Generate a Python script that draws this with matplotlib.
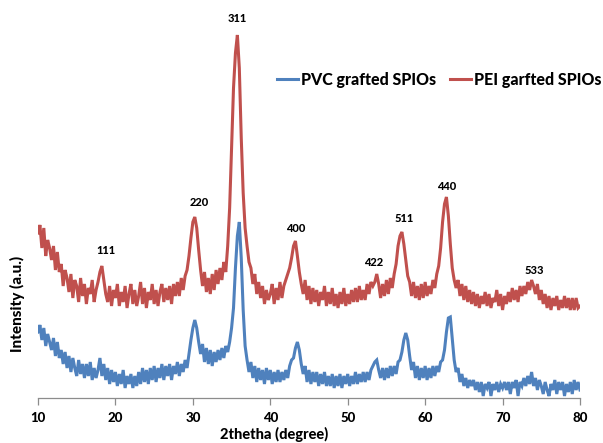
import numpy as np
import matplotlib
matplotlib.use("Agg")
import matplotlib.pyplot as plt

# 2theta grid (degree), 0.25 step from 10 to 80
two_theta_start = 10.0
two_theta_end = 80.0
two_theta_step = 0.25

# PEI grafted SPIOs intensity (a.u.)
pei = [
    165, 173, 150, 170, 142, 158, 150, 138, 152, 128, 146, 126,   # 10.00-12.75
    134, 112, 128, 120, 106, 124, 100, 118, 112, 96, 120, 102,    # 13.00-15.75
    114, 94, 110, 104, 118, 96, 108, 116, 126, 132, 118, 104,     # 16.00-18.75
    96, 112, 92, 108, 100, 114, 92, 106, 96, 112, 90, 104,        # 19.00-21.75
    114, 94, 108, 92, 102, 116, 94, 110, 90, 106, 98, 114,        # 22.00-24.75
    94, 108, 92, 106, 114, 96, 110, 98, 112, 94, 114, 102,        # 25.00-27.75
    116, 102, 120, 108, 122, 128, 142, 160, 176, 181, 170, 148,   # 28.00-30.75
    128, 112, 126, 106, 120, 104, 124, 108, 128, 114, 130, 118,   # 31.00-33.75
    136, 126, 152, 190, 250, 310, 345, 363, 330, 260, 205, 170,   # 34.00-36.75
    152, 136, 130, 114, 124, 104, 116, 100, 112, 94, 108, 98,     # 37.00-39.75
    104, 114, 94, 110, 98, 116, 100, 112, 118, 124, 130, 140,     # 40.00-42.75
    152, 157, 142, 126, 114, 104, 118, 98, 112, 94, 110, 96,      # 43.00-45.75
    108, 92, 106, 98, 112, 92, 106, 94, 110, 92, 104, 90,         # 46.00-48.75
    106, 94, 110, 92, 104, 94, 108, 96, 110, 96, 112, 98,         # 49.00-51.75
    108, 98, 114, 104, 116, 112, 116, 124, 114, 100, 114, 102,    # 52.00-54.75
    118, 104, 120, 110, 124, 134, 152, 162, 166, 154, 138, 122,   # 55.00-57.75
    116, 102, 116, 100, 112, 98, 114, 100, 116, 102, 112, 104,    # 58.00-60.75
    118, 110, 124, 132, 150, 176, 194, 201, 182, 154, 130, 118,   # 61.00-63.75
    110, 118, 102, 114, 98, 112, 96, 108, 94, 106, 92, 104,       # 64.00-66.75
    90, 102, 94, 106, 92, 104, 90, 100, 96, 108, 92, 104,         # 67.00-69.75
    88, 102, 94, 106, 96, 110, 98, 108, 96, 112, 102, 112,        # 70.00-72.75
    104, 116, 108, 118, 112, 104, 114, 98, 108, 94, 104, 90,      # 73.00-75.75
    102, 88, 100, 92, 102, 88, 98, 90, 102, 90, 100, 88,          # 76.00-78.75
    100, 88, 100, 90, 92,                                         # 79.00-80.00
]

# PVC grafted SPIOs intensity (a.u.)
pvc = [
    66, 73, 58, 70, 52, 64, 56, 48, 60, 42, 56, 40,               # 10.00-12.75
    48, 34, 46, 30, 42, 26, 40, 30, 22, 38, 24, 34,               # 13.00-15.75
    20, 34, 22, 36, 18, 30, 20, 28, 40, 22, 34, 18,               # 16.00-18.75
    30, 14, 28, 16, 26, 12, 24, 14, 28, 10, 22, 14,               # 19.00-21.75
    24, 10, 22, 12, 26, 14, 30, 16, 28, 14, 30, 18,               # 22.00-24.75
    32, 16, 30, 20, 34, 18, 32, 22, 34, 18, 32, 24,               # 25.00-27.75
    36, 22, 34, 26, 38, 30, 44, 58, 70, 78, 70, 56,               # 28.00-30.75
    44, 54, 36, 50, 34, 48, 32, 46, 36, 48, 38, 50,               # 31.00-33.75
    40, 52, 46, 56, 70, 90, 130, 162, 176, 140, 88, 52,           # 34.00-36.75
    38, 26, 36, 20, 32, 16, 30, 18, 28, 14, 30, 18,               # 37.00-39.75
    28, 14, 26, 16, 28, 16, 26, 18, 28, 20, 32, 38,               # 40.00-42.75
    40, 50, 56, 48, 34, 24, 32, 16, 28, 14, 26, 16,               # 43.00-45.75
    26, 12, 24, 14, 26, 12, 22, 12, 24, 10, 22, 12,               # 46.00-48.75
    24, 10, 22, 14, 24, 12, 22, 14, 26, 14, 24, 16,               # 49.00-51.75
    26, 16, 26, 18, 28, 32, 36, 38, 28, 20, 30, 18,               # 52.00-54.75
    30, 20, 32, 22, 32, 24, 36, 38, 46, 58, 65, 58,               # 55.00-57.75
    42, 28, 36, 20, 32, 18, 30, 20, 32, 18, 30, 20,               # 58.00-60.75
    32, 22, 32, 26, 36, 38, 48, 66, 80, 81, 60, 38,               # 61.00-63.75
    26, 30, 16, 24, 12, 20, 10, 18, 12, 18, 8, 16,                # 64.00-66.75
    6, 16, 2, 14, 10, 16, 2, 14, 8, 16, 6, 14,                    # 67.00-69.75
    10, 16, 8, 16, 4, 16, 10, 18, 2, 16, 12, 20,                  # 70.00-72.75
    12, 22, 14, 26, 12, 20, 8, 18, 12, 4, 16, 8,                  # 73.00-75.75
    2, 14, 8, 18, 4, 16, 8, 16, 2, 14, 6, 16,                     # 76.00-78.75
    4, 18, 8, 16, 8,                                              # 79.00-80.00
]

series_names = ["PVC grafted SPIOs", "PEI garfted SPIOs"]
series_colors = ["#4F81BD", "#C0504D"]

# peak labels (Miller indices)
peak_labels = ["111", "220", "311", "400", "422", "511", "440", "533"]
peak_label_x = [18.8, 30.8, 35.7, 43.3, 53.3, 57.3, 62.8, 74.1]
peak_label_y = [148, 196, 380, 170, 136, 179, 212, 128]

x_ticks = [10, 20, 30, 40, 50, 60, 70, 80]

n = int(round((two_theta_end - two_theta_start) / two_theta_step)) + 1
two_theta = np.linspace(two_theta_start, two_theta_end, n)
assert len(pei) == n and len(pvc) == n, (len(pei), len(pvc), n)

font = ["Lato", "DejaVu Sans"]
plt.rcParams["font.family"] = font

W, H = 603, 443
fig = plt.figure(figsize=(W / 100, H / 100), dpi=100)
ax_left, ax_right = 38, 580
ax_bottom_px = 398
ymax = 385
ax_w = ax_right - ax_left
ax = fig.add_axes([ax_left / W, (H - ax_bottom_px) / H, ax_w / W, ymax / H])

ax.plot(two_theta, pvc, color=series_colors[0], lw=2.2, label=series_names[0],
        solid_joinstyle="miter")
ax.plot(two_theta, pei, color=series_colors[1], lw=2.2, label=series_names[1],
        solid_joinstyle="miter")

ax.set_xlim(10, 80)
ax.set_ylim(0, ymax)

for s in ["top", "right", "left"]:
    ax.spines[s].set_visible(False)
ax.spines["bottom"].set_color("#8c8c8c")
ax.spines["bottom"].set_linewidth(0.9)
ax.set_yticks([])
ax.set_xticks(x_ticks)
ax.set_xticklabels([str(t) for t in x_ticks], fontsize=9.5, fontweight="black")
ax.tick_params(axis="x", direction="out", length=5, width=0.9, color="#8c8c8c",
               pad=5)

ax.set_xlabel("2thetha (degree)", fontsize=10.5, fontweight="black", va="center")
ax.xaxis.set_label_coords((274 - ax_left) / ax_w, (ax_bottom_px - 434) / ymax)
ax.set_ylabel("Intensity (a.u.)", fontsize=11, fontweight="black", va="center")
ax.yaxis.set_label_coords((17 - ax_left) / ax_w, (ax_bottom_px - 304) / ymax)

for lab, lx, ly in zip(peak_labels, peak_label_x, peak_label_y):
    ax.text(lx, ly, lab, ha="center", va="center", fontsize=8,
            fontweight="black", clip_on=False)

leg = ax.legend(loc="center left",
                bbox_to_anchor=((277 - ax_left) / ax_w, (ax_bottom_px - 80) / ymax),
                ncol=2, frameon=False,
                prop={"family": font, "weight": "black", "size": 11.5},
                handlelength=1.3, handletextpad=0.2, columnspacing=0.9,
                borderaxespad=0, borderpad=0)
for line in leg.get_lines():
    line.set_linewidth(2.2)

fig.savefig("out.png", dpi=100)
